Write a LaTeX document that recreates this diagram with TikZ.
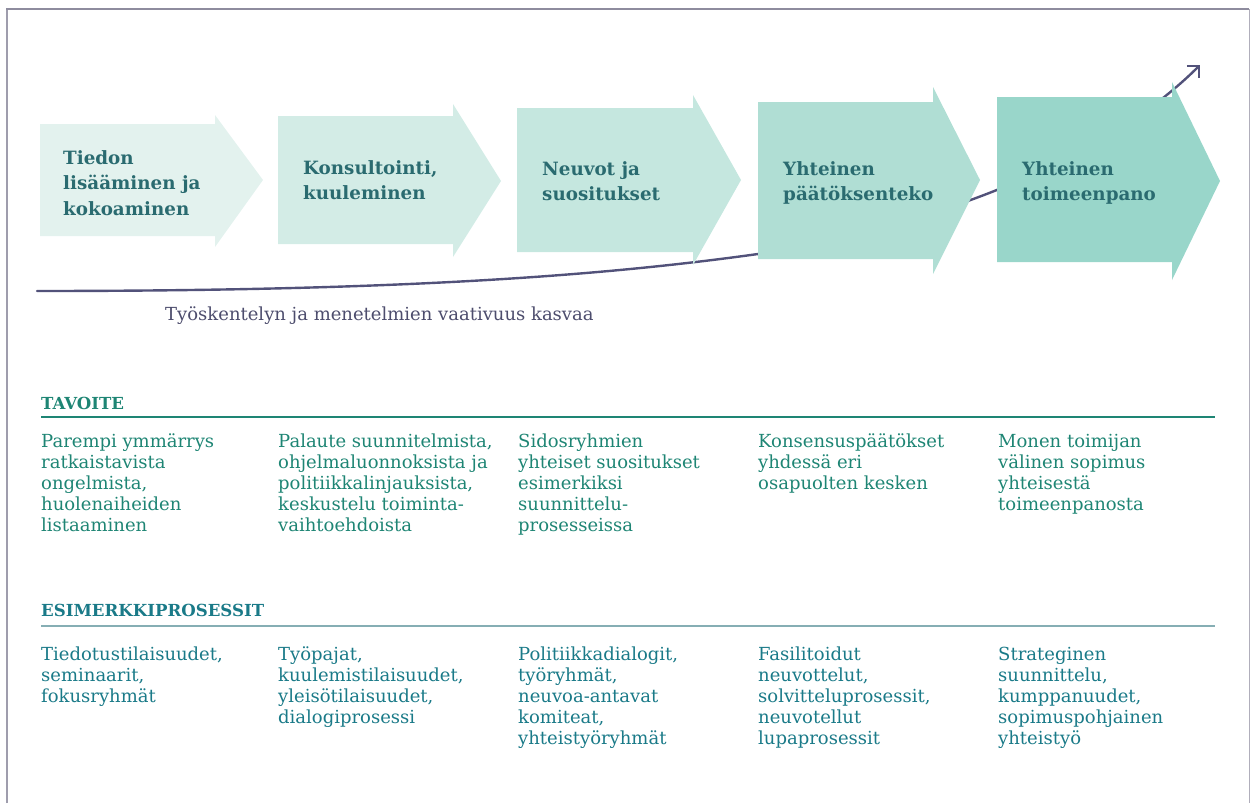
\documentclass[tikz,border=0pt]{standalone}
\usepackage{fontspec}
\setmainfont{DejaVu Serif}
\usetikzlibrary{arrows.meta}
\definecolor{framecol}{HTML}{8E8C9E}
\definecolor{cA}{HTML}{E3F2EE}
\definecolor{cB}{HTML}{D3ECE6}
\definecolor{cC}{HTML}{C5E7DF}
\definecolor{cD}{HTML}{B0DED4}
\definecolor{cE}{HTML}{99D6CA}
\definecolor{titlecol}{HTML}{2A6B70}
\definecolor{tavcol}{HTML}{1E8574}
\definecolor{esicol}{HTML}{1A7A88}
\definecolor{esirule}{HTML}{86AEB4}
\definecolor{trendcol}{HTML}{52527A}
\definecolor{labelcol}{HTML}{4D4D6D}
\newcommand{\chevron}[9]{\fill[#9] (#1,#2) -- (#4,#2) -- (#4,#5) -- (#7,#8) -- (#4,#6) -- (#4,#3) -- (#1,#3) -- cycle;}
\begin{document}
\begin{tikzpicture}[x=1pt,y=-1pt,
  title/.style={anchor=base west, align=left, inner sep=0pt, font=\fontsize{18.3}{25.5}\selectfont\bfseries, text=titlecol},
  headtxt/.style={anchor=base west, inner sep=0pt, font=\fontsize{16.6}{21}\selectfont\bfseries},
  bodytxt/.style={anchor=base west, align=left, inner sep=0pt, font=\fontsize{18}{21}\selectfont},
  trend/.style={draw=trendcol, line width=2.4pt, line cap=round},
]
\useasboundingbox (0,0) rectangle (1250,803);
% frame
\draw[framecol!85, line width=2pt] (7,803) -- (7,9);
\draw[framecol, line width=1.4pt] (6,9) -- (1249,9);
\draw[framecol!70, line width=1pt] (1249,9) -- (1249,803);
% trend line (behind the arrows)
\coordinate (trendstart) at (37,291);
\coordinate (trendmid) at (758,254);
\coordinate (trendend) at (1200,65);
\draw[trend, -{Straight Barb[length=8.5pt,width=17pt,line width=2.2pt]}]
  (trendstart) .. controls (400,291) and (600,276) .. (trendmid)
  .. controls (860,240) and (1080,185) .. (trendend);
% chevrons
\chevron{40}{124}{236}{215}{115}{247}{263}{180}{cA}
\chevron{278}{116}{244}{453}{104}{257}{501}{181}{cB}
\chevron{517}{108}{252}{693}{95}{265}{741}{180}{cC}
\chevron{758}{102}{259}{933}{87}{274}{980}{180}{cD}
\chevron{997}{97}{262}{1172}{82}{280}{1220}{181}{cE}
% titles (base anchor = baseline of the last line)
\node[title] (t1) at (63,215) {Tiedon\\lisääminen ja\\kokoaminen};
\node[title] (t2) at (303,199.5) {Konsultointi,\\kuuleminen};
\node[title] (t3) at (542,200.5) {Neuvot ja\\suositukset};
\node[title] (t4) at (783,200.5) {Yhteinen\\päätöksenteko};
\node[title] (t5) at (1022,200.5) {Yhteinen\\toimeenpano};
\node[bodytxt, text=labelcol] (trendlabel) at (165,320) {Työskentelyn ja menetelmien vaativuus kasvaa};
% TAVOITE
\node[headtxt, text=tavcol] (tavh) at (41,409) {TAVOITE};
\draw[tavcol, line width=1.5pt] (41,417) -- (1215,417);
\node[bodytxt, text=tavcol] (g1) at (41,531) {Parempi ymmärrys\\ratkaistavista\\ongelmista,\\huolenaiheiden\\listaaminen};
\node[bodytxt, text=tavcol] (g2) at (278,531) {Palaute suunnitelmista,\\ohjelmaluonnoksista ja\\politiikkalinjauksista,\\keskustelu toiminta-\\vaihtoehdoista};
\node[bodytxt, text=tavcol] (g3) at (518,531) {Sidosryhmien\\yhteiset suositukset\\esimerkiksi\\suunnittelu-\\prosesseissa};
\node[bodytxt, text=tavcol] (g4) at (758,489) {Konsensuspäätökset\\yhdessä eri\\osapuolten kesken};
\node[bodytxt, text=tavcol] (g5) at (998,510) {Monen toimijan\\välinen sopimus\\yhteisestä\\toimeenpanosta};
% ESIMERKKIPROSESSIT
\node[headtxt, text=esicol] (esih) at (41,616) {ESIMERKKIPROSESSIT};
\draw[esirule, line width=1.5pt] (41,626) -- (1215,626);
\node[bodytxt, text=esicol] (e1) at (41,702) {Tiedotustilaisuudet,\\seminaarit,\\fokusryhmät};
\node[bodytxt, text=esicol] (e2) at (278,723) {Työpajat,\\kuulemistilaisuudet,\\yleisötilaisuudet,\\dialogiprosessi};
\node[bodytxt, text=esicol] (e3) at (518,744) {Politiikkadialogit,\\työryhmät,\\neuvoa-antavat\\komiteat,\\yhteistyöryhmät};
\node[bodytxt, text=esicol] (e4) at (758,744) {Fasilitoidut\\neuvottelut,\\solvitteluprosessit,\\neuvotellut\\lupaprosessit};
\node[bodytxt, text=esicol] (e5) at (998,744) {Strateginen\\suunnittelu,\\kumppanuudet,\\sopimuspohjainen\\yhteistyö};
\end{tikzpicture}
\end{document}
